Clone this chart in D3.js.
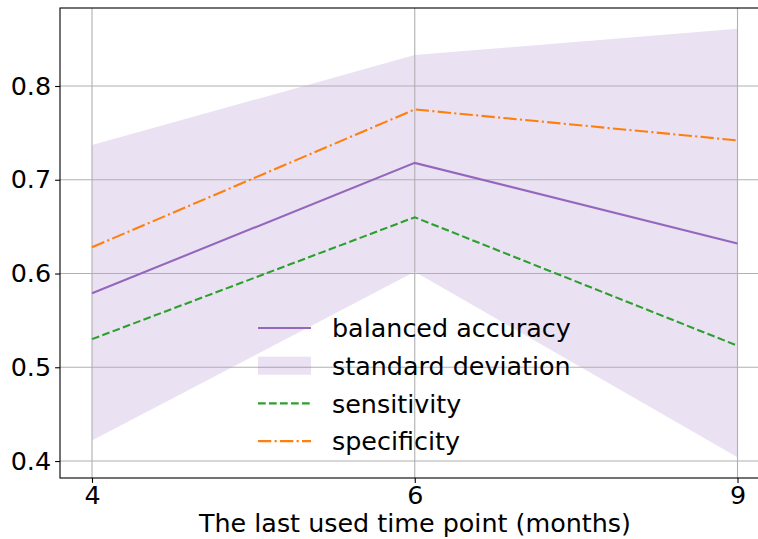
<!DOCTYPE html>
<html><head><meta charset="utf-8">
<script src="https://cdn.jsdelivr.net/npm/d3@7"></script>
<style>body{margin:0;background:#fff}svg{display:block}text{font-family:"DejaVu Sans",sans-serif}</style>
</head><body><svg id="c" width="758" height="539"></svg>
<script>
const months = ["4","6","9"];
const balancedAccuracy = [0.579, 0.718, 0.632];
const stdUpper = [0.737, 0.833, 0.861];
const stdLower = [0.422, 0.602, 0.404];
const sensitivity = [0.530, 0.660, 0.523];
const specificity = [0.628, 0.775, 0.742];
const yTicks = [0.4, 0.5, 0.6, 0.7, 0.8];
const xLabel = "The last used time point (months)";

const svg = d3.select("#c");
const L = 60, R = 770, T = 8, B = 478;
const x = d3.scalePoint().domain(months).range([92, 737.5]);
const y = d3.scaleLinear().domain([0.3819, 0.8832]).range([B, T]);
const fs = 25.4;

const band = d3.area().x((d,i)=>x(months[i])).y0((d,i)=>y(stdLower[i])).y1((d,i)=>y(stdUpper[i]));
svg.append("path").attr("d", band(months)).attr("fill", "#9467bd").attr("fill-opacity", 0.2);

// grid
const g = svg.append("g");
yTicks.forEach(t => g.append("line").attr("x1", L).attr("x2", R).attr("y1", y(t)).attr("y2", y(t)).attr("stroke", "#b0b0b0").attr("stroke-width", 1.1));
months.forEach(m => g.append("line").attr("x1", x(m)).attr("x2", x(m)).attr("y1", T).attr("y2", B).attr("stroke", "#b0b0b0").attr("stroke-width", 1.1));

const line = vals => d3.line().x((d,i)=>x(months[i])).y((d,i)=>y(vals[i]))(months);
svg.append("path").attr("d", line(balancedAccuracy)).attr("fill","none").attr("stroke","#9467bd").attr("stroke-width",2.08);
svg.append("path").attr("d", line(sensitivity)).attr("fill","none").attr("stroke","#2ca02c").attr("stroke-width",2.08).attr("stroke-dasharray","7.7,3.3");
svg.append("path").attr("d", line(specificity)).attr("fill","none").attr("stroke","#ff7f0e").attr("stroke-width",2.08).attr("stroke-dasharray","13.3,3.3,2.1,3.3");

// spines
svg.append("rect").attr("x", L).attr("y", T).attr("width", R-L).attr("height", B-T).attr("fill","none").attr("stroke","#000").attr("stroke-width",1.1);

// axes
const ya = svg.append("g").attr("transform", `translate(${L},0)`).call(d3.axisLeft(y).tickValues(yTicks).tickSize(4.9).tickPadding(4).tickFormat(d3.format(".1f")));
const xa = svg.append("g").attr("transform", `translate(0,${B})`).call(d3.axisBottom(x).tickSize(4.9).tickPadding(3));
[ya, xa].forEach(a => { a.select(".domain").remove(); a.selectAll("text").attr("font-size", fs).attr("font-family","DejaVu Sans").attr("fill","#000"); a.selectAll(".tick line").attr("stroke","#000").attr("stroke-width",1.1); });

svg.append("text").attr("x", 415).attr("y", 532).attr("text-anchor","middle").attr("font-size", fs).text(xLabel);

// legend
const legendItems = [
  {label:"balanced accuracy", type:"line", color:"#9467bd", dash:null},
  {label:"standard deviation", type:"patch", color:"#9467bd"},
  {label:"sensitivity", type:"line", color:"#2ca02c", dash:"7.7,3.3"},
  {label:"specificity", type:"line", color:"#ff7f0e", dash:"13.3,3.3,2.1,3.3"}
];
const lg = svg.append("g");
legendItems.forEach((it, i) => {
  const cy = 328 + i * 37.7;
  if (it.type === "line") {
    const l = lg.append("line").attr("x1", 258).attr("x2", 311).attr("y1", cy).attr("y2", cy).attr("stroke", it.color).attr("stroke-width", 2.08);
    if (it.dash) l.attr("stroke-dasharray", it.dash);
  } else {
    lg.append("rect").attr("x", 258).attr("y", cy - 9).attr("width", 53).attr("height", 18).attr("fill", it.color).attr("fill-opacity", 0.2);
  }
  lg.append("text").attr("x", 332).attr("y", cy).attr("dy", "0.36em").attr("font-size", fs).text(it.label);
});
</script></body></html>
